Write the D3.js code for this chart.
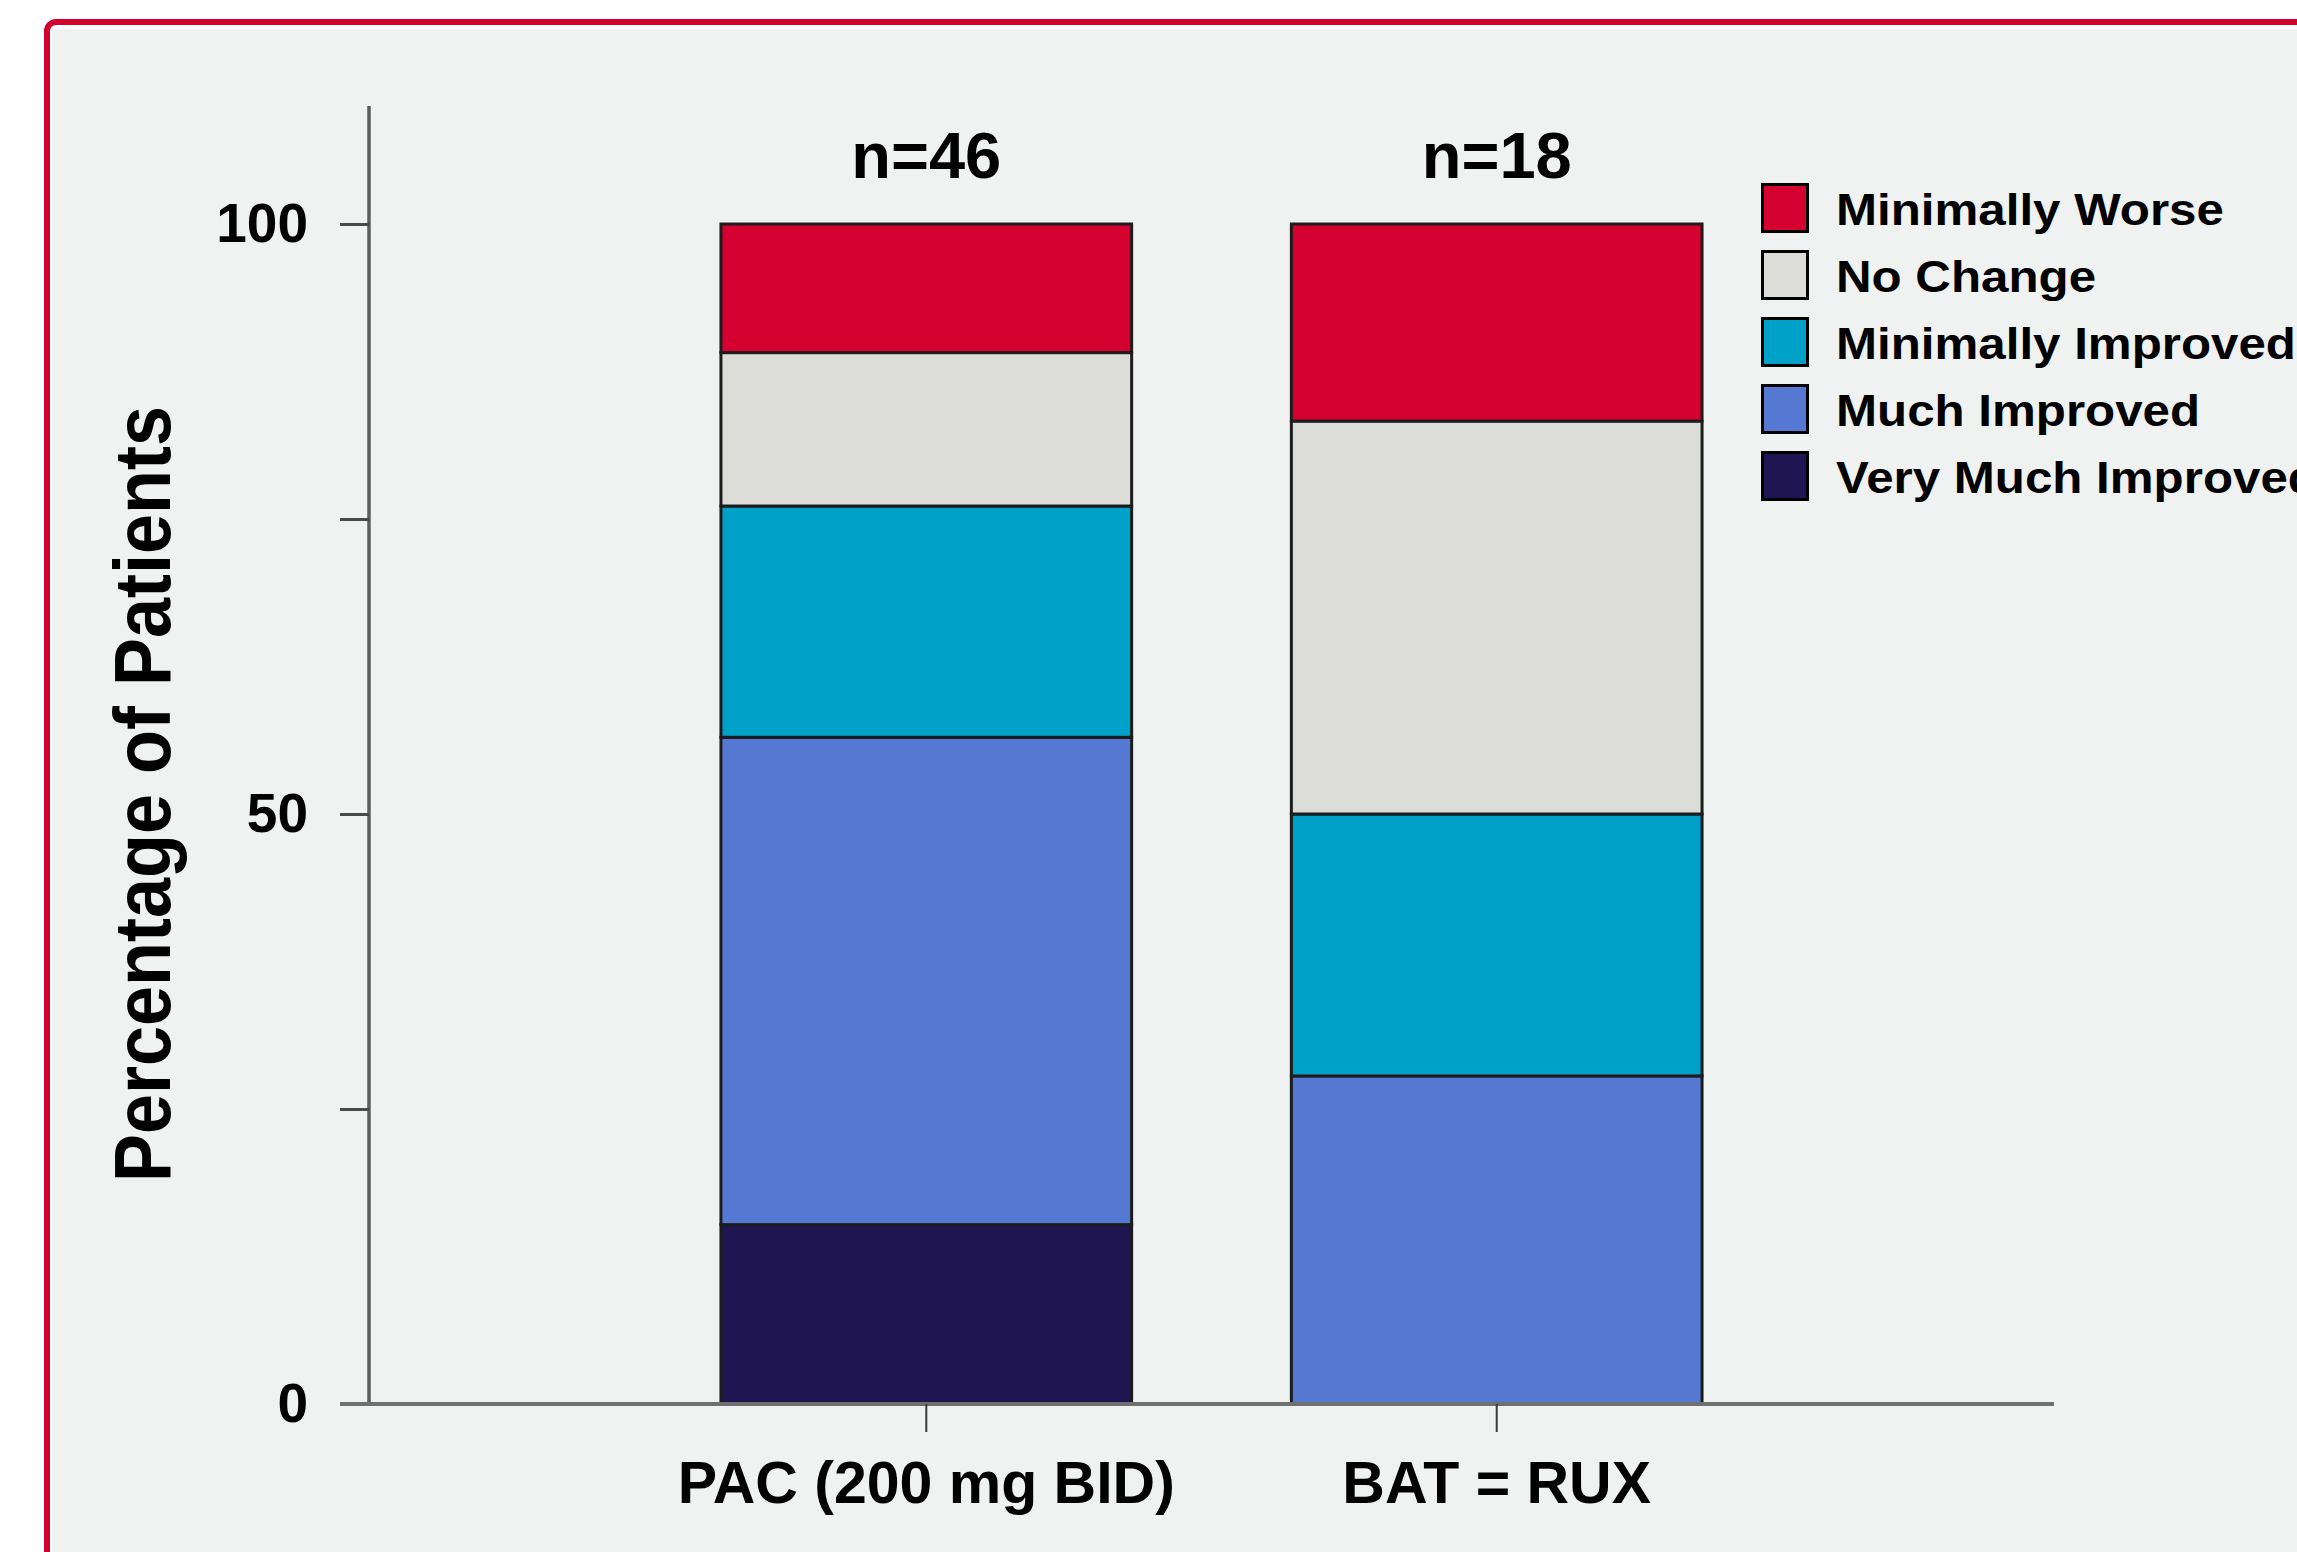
<!DOCTYPE html>
<html>
<head>
<meta charset="utf-8">
<script src="https://cdn.jsdelivr.net/npm/d3@7"></script>
<style>
  html, body { margin: 0; padding: 0; background: #ffffff; }
  svg { display: block; font-family: "Liberation Sans", Arial, Helvetica, sans-serif; }
</style>
</head>
<body>
<svg id="chart" width="2297" height="1552"></svg>
<script>
// Treatment arms and their sample sizes
const groups = ["PAC (200 mg BID)", "BAT = RUX"];
const groupN = ["n=46", "n=18"];

// Response categories, stacked from the bottom up
const categories = ["Very Much Improved", "Much Improved", "Minimally Improved", "No Change", "Minimally Worse"];
const categoryColors = ["#1f1550", "#5578d2", "#00a1c8", "#dcddd8", "#d40030"];

// Percentage of patients in each category, per arm
const pacValues = [15.2, 41.3, 19.6, 13.0, 10.9];
const batValues = [0.0, 27.8, 22.2, 33.3, 16.7];

// Y axis ticks (minor ticks at 25 and 75 carry no label)
const yTicks = [0, 25, 50, 75, 100];
const yTickLabels = ["0", "", "50", "", "100"];

const svg = d3.select("#chart");

// Red frame and light panel
svg.append("rect")
  .attr("x", 47).attr("y", 22)
  .attr("width", 2400).attr("height", 1700)
  .attr("rx", 9)
  .attr("fill", "#ffffff")
  .attr("stroke", "#d4002f")
  .attr("stroke-width", 6);
svg.append("rect")
  .attr("x", 52).attr("y", 29)
  .attr("width", 2300).attr("height", 1600)
  .attr("fill", "#f0f2f1");

// Scales
const x = d3.scaleBand()
  .domain(groups)
  .range([369, 2054])
  .paddingInner(0.28)
  .paddingOuter(0.617);

const y = d3.scaleLinear()
  .domain([0, 110])
  .range([1404, 106]);

// Stack the table built from the per-arm arrays
const table = groups.map((g, i) => {
  const vals = i === 0 ? pacValues : batValues;
  const row = { group: g };
  categories.forEach((c, j) => { row[c] = vals[j]; });
  return row;
});
const series = d3.stack().keys(categories)(table);

const color = d3.scaleOrdinal().domain(categories).range(categoryColors);

// Bars
const layers = svg.append("g").attr("class", "bars")
  .selectAll("g")
  .data(series)
  .join("g")
  .attr("fill", d => color(d.key));

layers.selectAll("rect")
  .data(d => d.filter(s => s[1] - s[0] > 0))
  .join("rect")
  .attr("x", d => x(d.data.group))
  .attr("width", x.bandwidth())
  .attr("y", d => y(d[1]))
  .attr("height", d => y(d[0]) - y(d[1]))
  .attr("stroke", "#1c1c1c")
  .attr("stroke-width", 3);

// Y axis
const yAxis = d3.axisLeft(y)
  .tickValues(yTicks)
  .tickFormat((d, i) => yTickLabels[i])
  .tickSize(29)
  .tickPadding(32);

const gy = svg.append("g")
  .attr("transform", "translate(369,0)")
  .call(yAxis);
gy.select(".domain")
  .attr("d", `M0,${y(0)}V${y(110)}`)
  .attr("stroke", "#5c5c5c")
  .attr("stroke-width", 3.5);
gy.selectAll(".tick line").attr("stroke", "#4a4a4a").attr("stroke-width", 3);
gy.selectAll(".tick text")
  .attr("font-size", 55)
  .attr("font-weight", "bold")
  .attr("fill", "#000")
  .attr("font-family", "'Liberation Sans', Arial, sans-serif");

// X axis
const xAxis = d3.axisBottom(x).tickSize(28).tickFormat("");
const gx = svg.append("g")
  .attr("transform", `translate(0,${y(0)})`)
  .call(xAxis);
gx.select(".domain")
  .attr("d", "M340,0H2054")
  .attr("stroke", "#707070")
  .attr("stroke-width", 4);
gx.selectAll(".tick line").attr("stroke", "#3a3a3a").attr("stroke-width", 2);

// Category labels under the bars
svg.append("g").selectAll("text")
  .data(groups)
  .join("text")
  .attr("x", d => x(d) + x.bandwidth() / 2)
  .attr("y", 1503)
  .attr("text-anchor", "middle")
  .attr("font-size", 59)
  .attr("font-weight", "bold")
  .attr("fill", "#000")
  .text(d => d);

// Sample sizes above the bars
svg.append("g").selectAll("text")
  .data(groups)
  .join("text")
  .attr("x", d => x(d) + x.bandwidth() / 2)
  .attr("y", 178)
  .attr("text-anchor", "middle")
  .attr("font-size", 65)
  .attr("font-weight", "bold")
  .attr("fill", "#000")
  .text((d, i) => groupN[i]);

// Y axis title
svg.append("text")
  .attr("transform", "translate(170,794) rotate(-90) scale(0.9,1)")
  .attr("text-anchor", "middle")
  .attr("font-size", 80)
  .attr("font-weight", "bold")
  .attr("fill", "#000")
  .text("Percentage of Patients");

// Legend, listed from the top category down
const legendItems = categories.slice().reverse();
const legend = svg.append("g").attr("transform", "translate(1761,183)");
const rows = legend.selectAll("g")
  .data(legendItems)
  .join("g")
  .attr("transform", (d, i) => `translate(0,${i * 67})`);
rows.append("rect")
  .attr("x", 1.5).attr("y", 1.5)
  .attr("width", 45).attr("height", 47)
  .attr("fill", d => color(d))
  .attr("stroke", "#000")
  .attr("stroke-width", 3);
rows.append("text")
  .attr("transform", "translate(75,42) scale(1.12,1)")
  .attr("font-size", 44)
  .attr("font-weight", "bold")
  .attr("fill", "#000")
  .text(d => d);
</script>
</body>
</html>
